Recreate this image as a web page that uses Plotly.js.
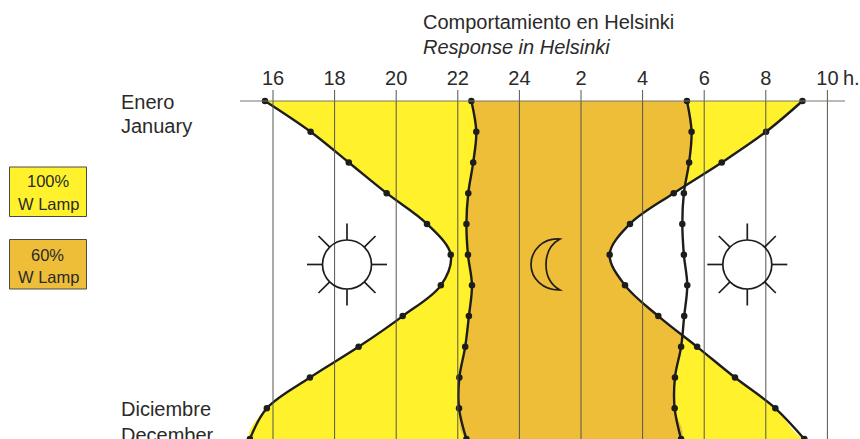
<!DOCTYPE html>
<html>
<head>
<meta charset="utf-8">
<script src="https://cdn.plot.ly/plotly-3.0.1.min.js"></script>
<style>html,body{margin:0;padding:0;background:#fff}#chart{width:860px;height:439px}</style>
</head>
<body>
<div id="chart"></div>
<script>
// Hours on a continuous clock (24 = midnight, 26 = 2 h next day)
const months = [0,1,2,3,4,5,6,7,8,9,10,11];
const sunset   = [15.74,17.22,18.46,19.69,21.00,21.77,21.45,20.21,18.78,17.20,15.80,15.25];
const lampOff  = [22.44,22.60,22.50,22.34,22.28,22.33,22.46,22.36,22.24,22.05,22.04,22.28];
const lampOn   = [29.44,29.59,29.51,29.34,29.29,29.34,29.45,29.35,29.25,29.05,29.04,29.25];
const sunrise  = [33.19,32.01,30.57,29.01,27.59,26.93,27.43,28.51,29.77,31.00,32.31,33.25];
const tickVals = [16,18,20,22,24,26,28,30,32,34];
const tickText = ['16','18','20','22','24','2','4','6','8','10'];

const YELLOW = '#fff22d', ORANGE = '#efbe38', INK = '#1d1d1b', TEXT = '#2b2a29';
const FONT = 'Liberation Sans, Arial, sans-serif';
const W = 860, H = 439, TOP = 90;
const xRange = [16 - 273/30.8, 16 + (860-273)/30.8];
const yRange = [11, -11/30.73];
// pixel helpers for decorations and text only
const X = p => 16 + (p-273)/30.8;
const Y = p => (p-101)/30.73;
const PY = p => (H-p)/(H-TOP);

const rev = a => a.slice().reverse();
const line = {shape:'spline', smoothing:1, width:0};
const traces = [
  {name:'100% W Lamp', x:sunset.concat(rev(sunrise)), y:months.concat(rev(months)), mode:'lines', fill:'toself', fillcolor:YELLOW, line:Object.assign({color:YELLOW},line), hoverinfo:'skip'},
  {name:'60% W Lamp', x:lampOff.concat(rev(lampOn)), y:months.concat(rev(months)), mode:'lines', fill:'toself', fillcolor:ORANGE, line:Object.assign({color:ORANGE},line), hoverinfo:'skip'},
  {name:'day', x:sunrise.concat([xRange[1],xRange[1]]), y:months.concat([11,0]), mode:'lines', fill:'toself', fillcolor:'#ffffff', line:Object.assign({color:'#ffffff'},line), hoverinfo:'skip'}
];
const curve = (name,x) => ({name, x, y:months, mode:'lines+markers',
  line:{color:INK,width:2.4,shape:'spline',smoothing:1}, marker:{color:INK,size:6.5}});
traces.push(curve('Puesta de sol',sunset),curve('Encendido',lampOff),curve('Apagado',lampOn),curve('Salida de sol',sunrise));

const shapes = [];
tickVals.forEach(v=>shapes.push({type:'line',layer:'above',xref:'x',yref:'paper',x0:v,x1:v,y0:0,y1:1,line:{color:'#55554f',width:1}}));
shapes.push({type:'line',layer:'above',xref:'x',yref:'y',x0:X(240),x1:X(845),y0:0,y1:0,line:{color:'#77756b',width:1}});

// sun icons
function sun(cx,cy){
  const a = {xsizemode:'pixel',ysizemode:'pixel',xanchor:X(cx),yanchor:Y(cy),xref:'x',yref:'y',layer:'above',line:{color:INK,width:1.7}};
  shapes.push(Object.assign({type:'circle',x0:-24.5,x1:24.5,y0:-24.5,y1:24.5},a));
  [[24.5,0,40,0],[-24.5,0,-40,0],[0,24.5,0,41],[0,-24.5,0,-41],[17.3,17.3,28.5,28.5],[-17.3,17.3,-28.5,28.5],[17.3,-17.3,28.5,-28.5],[-17.3,-17.3,-28.5,-28.5]].forEach(r=>{
    shapes.push(Object.assign({type:'line',x0:r[0],x1:r[2],y0:r[1],y1:r[3]},a));
  });
}
sun(347,264.5); sun(747.3,264.5);
// moon icon
shapes.push({type:'path',xsizemode:'pixel',ysizemode:'pixel',xanchor:X(545),yanchor:Y(264.5),xref:'x',yref:'y',layer:'above',line:{color:INK,width:1.7},
  path:'M 15 25.5 C -2 27 -14 14 -14 0 C -14 -14 -2 -26 15 -25.5 C 5 -20 1 -10 1 0 C 1 10 5 20 15 25.5 Z'});
// legend boxes
[[167,YELLOW],[239.5,ORANGE]].forEach(b=>{
  shapes.push({type:'rect',xref:'x',yref:'paper',x0:X(9.5),x1:X(86.5),y0:PY(b[0]+49.5),y1:PY(b[0]),fillcolor:b[1],layer:'above',line:{color:'#4a4a44',width:1}});
});

const ann = (t,px,py,size,anchor) => ({text:t,xref:'x',yref:'paper',x:X(px),y:PY(py),showarrow:false,xanchor:anchor||'left',yanchor:'middle',
  font:{family:FONT,size:size,color:TEXT}});
const annotations = [
  ann('Comportamiento en Helsinki',421,22,20),
  ann('<i>Response in Helsinki</i>',421,47,20),
  ann('Enero',119,102,20),
  ann('January',119,126,20),
  ann('Diciembre',119,409,20),
  ann('December',119,435,20),
  ann('h.',841,78,20),
  ann('100%',48,181,16.5,'center'),
  ann('W Lamp',48,204,16.5,'center'),
  ann('60%',47,255,16.5,'center'),
  ann('W Lamp',48,277,16.5,'center')
];

Plotly.newPlot('chart',traces,{
  width:W,height:H,margin:{l:0,r:0,t:TOP,b:0},
  paper_bgcolor:'#fff',plot_bgcolor:'#fff',showlegend:false,
  xaxis:{range:xRange,side:'top',tickmode:'array',tickvals:tickVals,ticktext:tickText,ticks:'',showgrid:false,zeroline:false,showline:false,
    tickfont:{family:FONT,size:20,color:TEXT}},
  yaxis:{range:yRange,showticklabels:false,showgrid:false,zeroline:false,showline:false,ticks:''},
  shapes,annotations
},{displayModeBar:false,staticPlot:true});
</script>
</body>
</html>
